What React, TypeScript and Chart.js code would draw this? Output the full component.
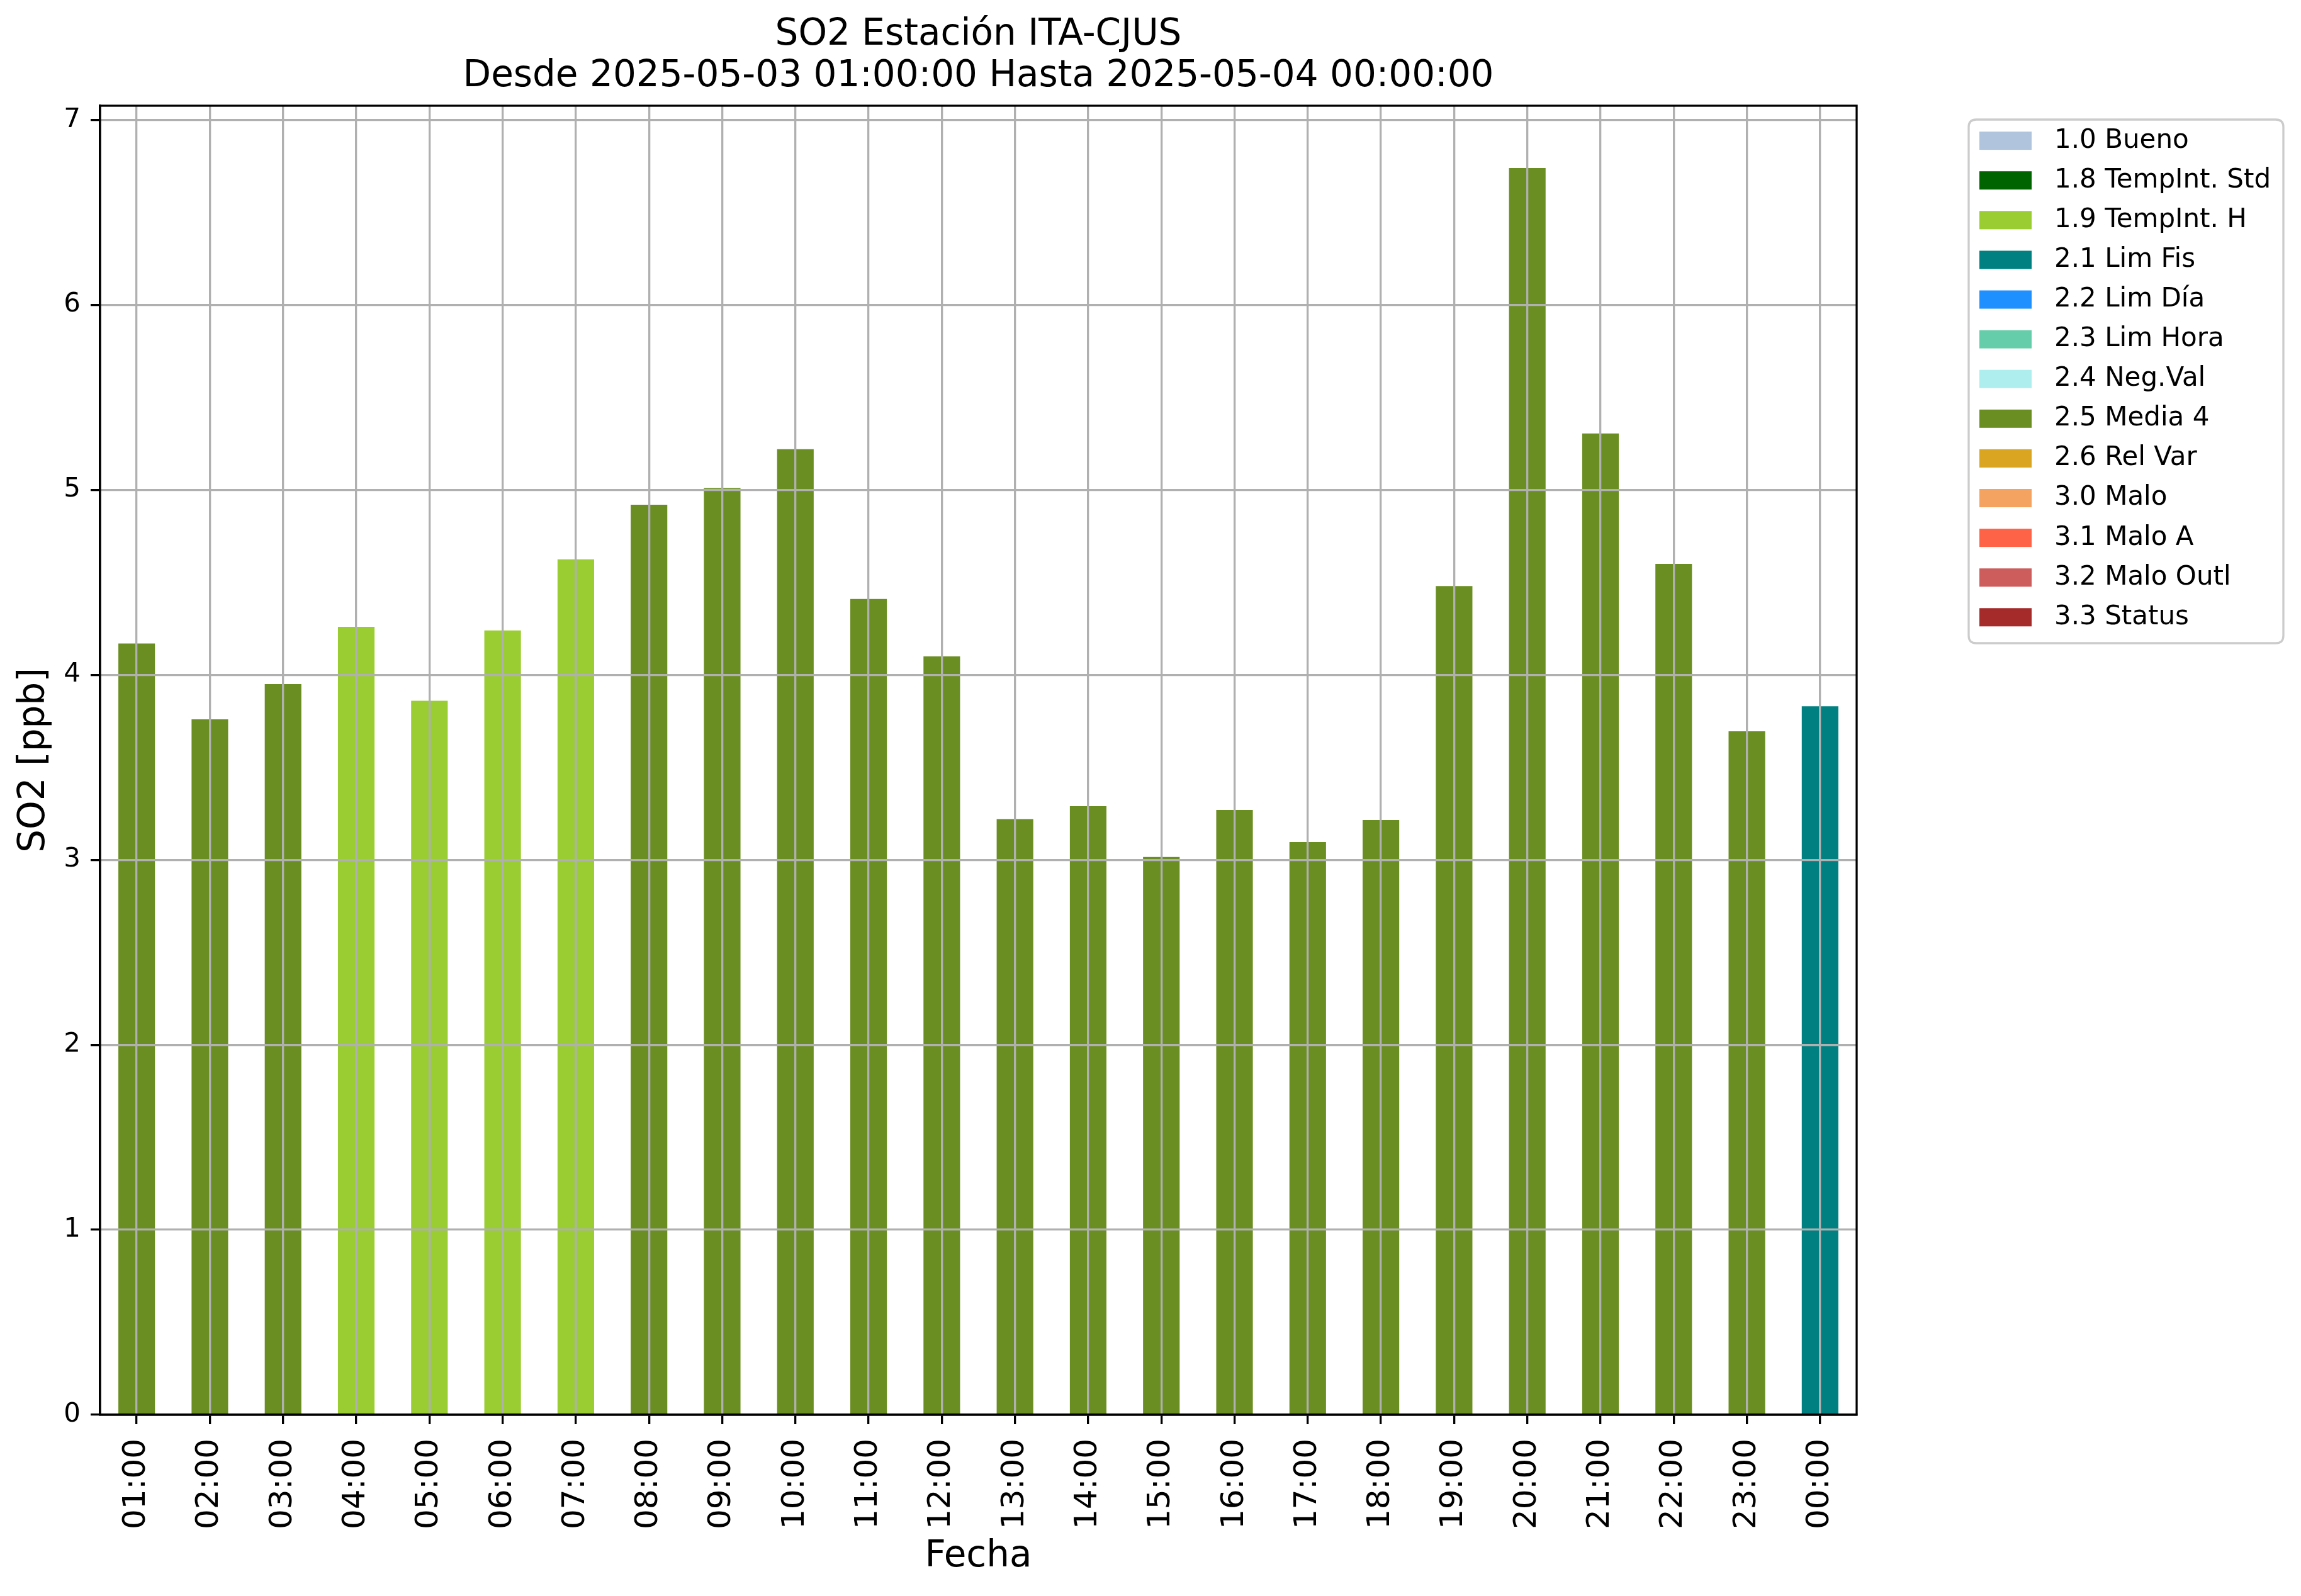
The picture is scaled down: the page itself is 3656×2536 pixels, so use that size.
import React, { useEffect, useRef } from "react";
import { Chart, registerables } from "chart.js";

Chart.register(...registerables);

const hours = [
  "01:00", "02:00", "03:00", "04:00", "05:00", "06:00", "07:00", "08:00",
  "09:00", "10:00", "11:00", "12:00", "13:00", "14:00", "15:00", "16:00",
  "17:00", "18:00", "19:00", "20:00", "21:00", "22:00", "23:00", "00:00",
];

const so2Values = [
  4.17, 3.76, 3.95, 4.26, 3.86, 4.24, 4.625, 4.92,
  5.01, 5.22, 4.41, 4.1, 3.22, 3.29, 3.015, 3.27,
  3.096, 3.215, 4.48, 6.74, 5.305, 4.6, 3.695, 3.83,
];

const hourFlags = [
  "2.5", "2.5", "2.5", "1.9", "1.9", "1.9", "1.9", "2.5",
  "2.5", "2.5", "2.5", "2.5", "2.5", "2.5", "2.5", "2.5",
  "2.5", "2.5", "2.5", "2.5", "2.5", "2.5", "2.5", "2.1",
];

const flagCodes = ["1.0", "1.8", "1.9", "2.1", "2.2", "2.3", "2.4", "2.5", "2.6", "3.0", "3.1", "3.2", "3.3"];
const flagLabels = [
  "1.0 Bueno", "1.8 TempInt. Std", "1.9 TempInt. H", "2.1 Lim Fis", "2.2 Lim Día",
  "2.3 Lim Hora", "2.4 Neg.Val", "2.5 Media 4", "2.6 Rel Var", "3.0 Malo",
  "3.1 Malo A", "3.2 Malo Outl", "3.3 Status",
];
const flagColors = [
  "#B0C4DE", "#006400", "#9ACD32", "#008080", "#1E90FF",
  "#66CDAA", "#AFEEEE", "#6B8E23", "#DAA520", "#F4A460",
  "#FF6347", "#CD5C5C", "#A52A2A",
];

const titleLines = ["SO2 Estación ITA-CJUS", "Desde 2025-05-03 01:00:00 Hasta 2025-05-04 00:00:00"];

const FONT = "'DejaVu Sans', sans-serif";

const framePlugin = {
  id: "mplFrame",
  afterDraw(chart: any) {
    const { ctx, chartArea } = chart;
    ctx.save();
    ctx.strokeStyle = "#000";
    ctx.lineWidth = 3.3;
    ctx.strokeRect(chartArea.left, chartArea.top, chartArea.right - chartArea.left, chartArea.bottom - chartArea.top);
    ctx.restore();

    // legend
    const fx = chartArea.right + 178;
    const fy = 190;
    const fw = 500;
    const fh = 832;
    const r = 12;
    ctx.save();
    ctx.beginPath();
    ctx.moveTo(fx + r, fy);
    ctx.lineTo(fx + fw - r, fy);
    ctx.quadraticCurveTo(fx + fw, fy, fx + fw, fy + r);
    ctx.lineTo(fx + fw, fy + fh - r);
    ctx.quadraticCurveTo(fx + fw, fy + fh, fx + fw - r, fy + fh);
    ctx.lineTo(fx + r, fy + fh);
    ctx.quadraticCurveTo(fx, fy + fh, fx, fy + fh - r);
    ctx.lineTo(fx, fy + r);
    ctx.quadraticCurveTo(fx, fy, fx + r, fy);
    ctx.closePath();
    ctx.fillStyle = "rgba(255,255,255,0.8)";
    ctx.fill();
    ctx.strokeStyle = "#cccccc";
    ctx.lineWidth = 3.3;
    ctx.stroke();
    ctx.font = `42px ${FONT}`;
    ctx.textBaseline = "middle";
    ctx.textAlign = "left";
    const ds = chart.data.datasets;
    for (let i = 0; i < ds.length; i++) {
      const cy = fy + 33.6 + i * 63.1;
      ctx.fillStyle = ds[i].backgroundColor;
      ctx.fillRect(fx + 17, cy - 14.5, 83, 29);
      ctx.fillStyle = "#000";
      ctx.fillText(ds[i].label, fx + 136, cy);
    }
    ctx.restore();
  },
};

export default function App() {
  const canvasRef = useRef<HTMLCanvasElement | null>(null);

  useEffect(() => {
    if (!canvasRef.current) return;
    const datasets = flagCodes.map((code, k) => ({
      label: flagLabels[k],
      data: so2Values.map((v, i) => (hourFlags[i] === code ? v : null)),
      backgroundColor: flagColors[k],
      borderWidth: 0,
      categoryPercentage: 1.0,
      barPercentage: 0.5,
    }));
    const yMax = Math.max(...so2Values) * 1.05;

    const chart = new Chart(canvasRef.current, {
      type: "bar",
      data: { labels: hours, datasets },
      plugins: [framePlugin],
      options: {
        animation: false,
        responsive: false,
        devicePixelRatio: 1,
        layout: { padding: { left: 0, top: 0, bottom: 0, right: 706 } },
        font: { family: FONT },
        plugins: {
          legend: { display: false },
          tooltip: { enabled: false },
          title: {
            display: true,
            text: titleLines,
            color: "#000",
            fullSize: false,
            font: { family: FONT, size: 58, weight: "normal", lineHeight: 66 / 58 },
            padding: { top: 23, bottom: 13 },
          },
        },
        scales: {
          x: {
            stacked: true,
            offset: true,
            z: 1,
            ticks: {
              autoSkip: false,
              maxRotation: 90,
              minRotation: 90,
              color: "#000",
              padding: 23,
              font: { family: FONT, size: 50 },
            },
            grid: {
              z: 1,
              offset: false,
              color: "#b0b0b0",
              lineWidth: 3.3,
              tickColor: "#000",
              tickLength: 15,
              tickWidth: 3.3,
            },
            border: { display: true, color: "#000", width: 3.3, z: 2 },
            title: {
              display: true,
              text: "Fecha",
              color: "#000",
              font: { family: FONT, size: 58, lineHeight: 1.2 },
              padding: { top: 0, bottom: 27 },
            },
            afterFit: (s: any) => {
              s.height = 288;
            },
          },
          y: {
            stacked: true,
            min: 0,
            max: yMax,
            z: 1,
            ticks: {
              stepSize: 1,
              includeBounds: false,
              color: "#000",
              padding: 16,
              font: { family: FONT, size: 42 },
            },
            grid: {
              z: 1,
              color: "#b0b0b0",
              lineWidth: 3.3,
              tickColor: "#000",
              tickLength: 15,
              tickWidth: 3.3,
            },
            border: { display: true, color: "#000", width: 3.3, z: 2 },
            title: {
              display: true,
              text: "SO2 [ppb]",
              color: "#000",
              font: { family: FONT, size: 58, lineHeight: 1.2 },
              padding: { top: 20, bottom: 0 },
            },
            afterFit: (s: any) => {
              s.width = 159;
            },
          },
        },
      } as any,
    });
    return () => chart.destroy();
  }, []);

  return (
    <div style={{ position: "absolute", left: 0, top: 0, width: 3656, height: 2536, background: "#fff" }}>
      <canvas ref={canvasRef} width={3656} height={2536} style={{ display: "block", width: 3656, height: 2536 }} />
    </div>
  );
}
